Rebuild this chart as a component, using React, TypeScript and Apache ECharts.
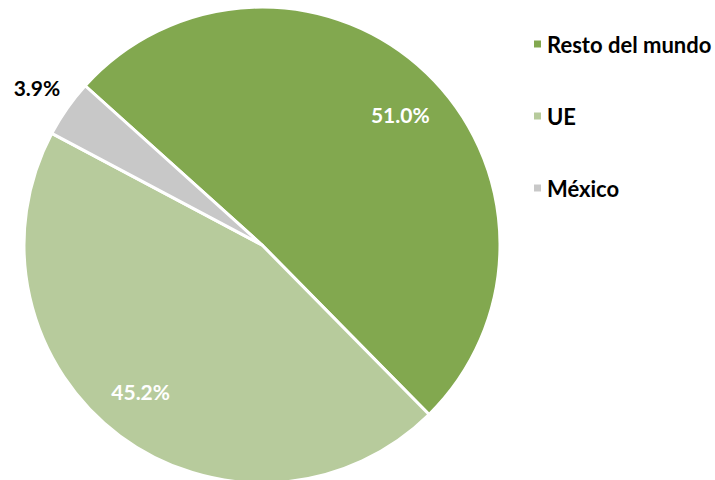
import React, { useEffect, useRef } from "react";
import * as echarts from "echarts";

const categories = ["Resto del mundo", "UE", "México"];
const values = [51.0, 45.2, 3.9];
const colors = ["#82A84F", "#B7CB9C", "#C8C8C8"];

export default function App() {
  const ref = useRef<HTMLDivElement>(null);
  useEffect(() => {
    if (!ref.current) return;
    const chart = echarts.init(ref.current, null, { renderer: "svg" });
    const font = "Lato, 'Open Sans', sans-serif";
    const data = categories.map((name, i) => ({
      name,
      value: values[i],
      itemStyle: { color: colors[i] },
    }));
    chart.setOption({
      animation: false,
      legend: {
        orient: "vertical",
        left: 527,
        top: 26,
        itemWidth: 9,
        itemHeight: 9,
        itemGap: 46,
        icon: "rect",
        data: categories,
        textStyle: {
          fontFamily: font,
          fontWeight: "bold",
          fontSize: 22,
          lineHeight: 26,
          color: "#000",
          padding: [0, 0, 0, 0],
        },
      },
      series: [
        {
          type: "pie",
          center: [262, 245],
          radius: [0, 238],
          startAngle: 138,
          clockwise: true,
          silent: true,
          itemStyle: { borderColor: "#fff", borderWidth: 3 },
          label: { show: false },
          labelLine: { show: false },
          data,
        },
        {
          type: "pie",
          center: [262, 245],
          radius: [136, 238],
          startAngle: 135,
          clockwise: true,
          silent: true,
          legendHoverLink: false,
          itemStyle: { color: "transparent", borderWidth: 0 },
          label: {
            show: true,
            position: "inside",
            formatter: (p: any) => p.value.toFixed(1) + "%",
            fontFamily: font,
            fontWeight: "bold",
            fontSize: 21,
            color: "#fff",
          },
          labelLine: { show: false },
          data: categories.map((name, i) => ({
            name: name + " ",
            value: values[i],
            itemStyle: { color: "transparent" },
            label:
              i === 2
                ? { position: "outside", color: "#000", distanceToLabelLine: 0 }
                : undefined,
            labelLine: i === 2 ? { show: false, length: 18, length2: 0 } : undefined,
          })),
        },
      ],
    });
    return () => chart.dispose();
  }, []);
  return (
    <div
      ref={ref}
      style={{ position: "fixed", left: 0, top: 0, width: 715, height: 480, background: "#fff" }}
    />
  );
}
